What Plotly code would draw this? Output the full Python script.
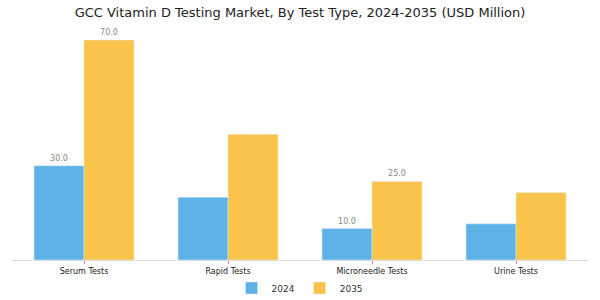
import plotly.graph_objects as go

categories = ["Serum Tests", "Rapid Tests", "Microneedle Tests", "Urine Tests"]
values_2024 = [30.0, 20.0, 10.0, 11.5]
values_2035 = [70.0, 40.0, 25.0, 21.5]
labels_2024 = ["30.0", "", "10.0", ""]
labels_2035 = ["70.0", "", "25.0", ""]

fig = go.Figure()
fig.add_trace(go.Bar(name="2024", x=categories, y=values_2024, marker_color="#5DB3E7",
                     text=labels_2024, textposition="outside",
                     textfont=dict(size=8, color="#888888"), cliponaxis=False))
fig.add_trace(go.Bar(name="2035", x=categories, y=values_2035, marker_color="#F9C34C",
                     text=labels_2035, textposition="outside",
                     textfont=dict(size=8, color="#888888"), cliponaxis=False))

fig.update_layout(
    width=600, height=300,
    margin=dict(l=12, r=12, t=30, b=40, autoexpand=False),
    paper_bgcolor="white", plot_bgcolor="white",
    font=dict(family="DejaVu Sans", color="#222222"),
    title=dict(text="GCC Vitamin D Testing Market, By Test Type, 2024-2035 (USD Million)",
               x=0.5, xanchor="center", y=0.96, yanchor="middle",
               font=dict(size=13, color="#222222")),
    barmode="group", bargap=0.305, bargroupgap=0,
    showlegend=True,
    legend=dict(orientation="h", x=0.5, xanchor="center", yref="container", y=0.04,
                yanchor="middle", bgcolor="rgba(0,0,0,0)",
                font=dict(size=9, color="#333333")),
    xaxis=dict(showline=True, linecolor="#dddddd", linewidth=1, ticks="outside",
               ticklen=3, tickcolor="#999999", tickfont=dict(size=8, color="#222222"),
               showgrid=False),
    yaxis=dict(visible=False, range=[0, 73.2]),
)

fig.write_html("out.html")
